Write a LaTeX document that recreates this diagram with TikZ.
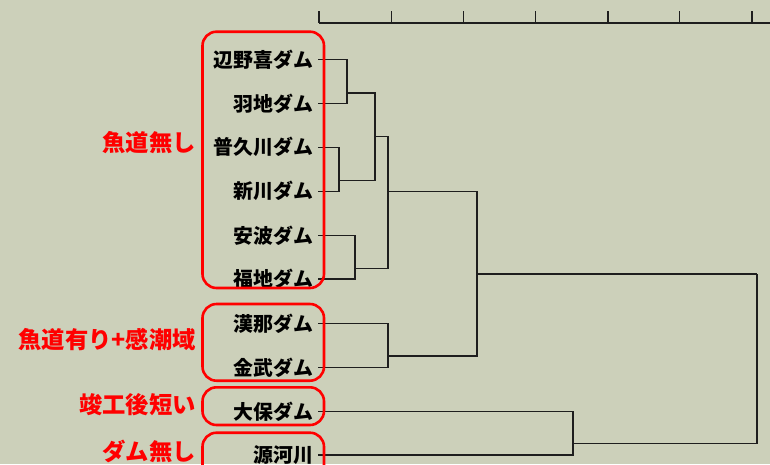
\documentclass[tikz,border=0pt]{standalone}
\usepackage{fontspec}
\newfontfamily\jp{Noto Sans CJK JP}
\definecolor{bgc}{RGB}{204,208,186}
\definecolor{redc}{RGB}{255,0,0}
\definecolor{linec}{RGB}{30,30,30}
\tikzset{
  leaflabel/.style={anchor=east, inner sep=0pt, font=\jp\bfseries\fontsize{19.9}{20}\selectfont, text=black},
  grouplabel/.style={anchor=east, inner sep=0pt, font=\jp\bfseries\fontsize{23.3}{24}\selectfont, text=redc},
  groupbox/.style={draw=redc, line width=2.6pt, rounded corners=14pt},
  dend/.style={draw=linec, line width=1.2pt},
  axisline/.style={draw=linec, line width=1.2pt}
}
\begin{document}
\begin{tikzpicture}[x=1pt,y=-1pt]
\useasboundingbox (0,0) rectangle (770,464);
\fill[bgc] (0,0) rectangle (770,464);

% axis
\draw[axisline] (319,23) -- (770,23);
\foreach \tx in {319,391.7,463.5,535.7,608,679.7,752}
  \draw[axisline] (\tx,11) -- (\tx,23);

% leaf positions
\foreach \i/\yy in {1/59.7,2/103.5,3/147.3,4/191.2,5/235.5,6/279,7/323.3,8/367.3,9/411.3,10/455}
  \coordinate (L\i) at (318,\yy);

% leaf labels
\node[leaflabel] (n1) at (313.5,59.7) {辺野喜ダム};
\node[leaflabel] (n2) at (313.5,103.5) {羽地ダム};
\node[leaflabel] (n3) at (313.5,147.3) {普久川ダム};
\node[leaflabel] (n4) at (313.5,191.2) {新川ダム};
\node[leaflabel] (n5) at (313.5,235.5) {安波ダム};
\node[leaflabel] (n6) at (313.5,279) {福地ダム};
\node[leaflabel] (n7) at (313.5,323.3) {漢那ダム};
\node[leaflabel] (n8) at (313.5,367.3) {金武ダム};
\node[leaflabel] (n9) at (313.5,411.3) {大保ダム};
\node[leaflabel] (n10) at (313.5,455) {源河川};

% merge points
\coordinate (a1) at (347,93);
\coordinate (b1) at (339,180.7);
\coordinate (c1) at (375,136.7);
\coordinate (d1) at (355,268.3);
\coordinate (e1) at (388,191.7);
\coordinate (f1) at (388,356);
\coordinate (g1) at (477,274);
\coordinate (h1) at (573,443.3);
\coordinate (r1) at (757,274);

\draw[dend] (L1) -| (a1);
\draw[dend] (L2) -| (a1);
\draw[dend] (L3) -| (b1);
\draw[dend] (L4) -| (b1);
\draw[dend] (a1) -| (c1);
\draw[dend] (b1) -| (c1);
\draw[dend] (L5) -| (d1);
\draw[dend] (L6) -| (d1);
\draw[dend] (c1) -| (e1);
\draw[dend] (d1) -| (e1);
\draw[dend] (L7) -| (f1);
\draw[dend] (L8) -| (f1);
\draw[dend] (e1) -| (g1);
\draw[dend] (f1) -| (g1);
\draw[dend] (L9) -| (h1);
\draw[dend] (L10) -| (h1);
\draw[dend] (g1) -| (r1);
\draw[dend] (h1) -| (r1);

% group boxes
\draw[groupbox] (202.5,31.7) rectangle (324,288);
\draw[groupbox] (202.5,304) rectangle (324,380.7);
\draw[groupbox] (202.5,387.3) rectangle (324,425);
\draw[groupbox] (202.5,432.7) rectangle (324,485);

% group labels
\node[grouplabel] (g1l) at (196,143) {魚道無し};
\node[grouplabel] (g2l) at (196,340) {魚道有り+感潮域};
\node[grouplabel] (g3l) at (196,405) {竣工後短い};
\node[grouplabel] (g4l) at (196,451.7) {ダム無し};
\end{tikzpicture}
\end{document}
